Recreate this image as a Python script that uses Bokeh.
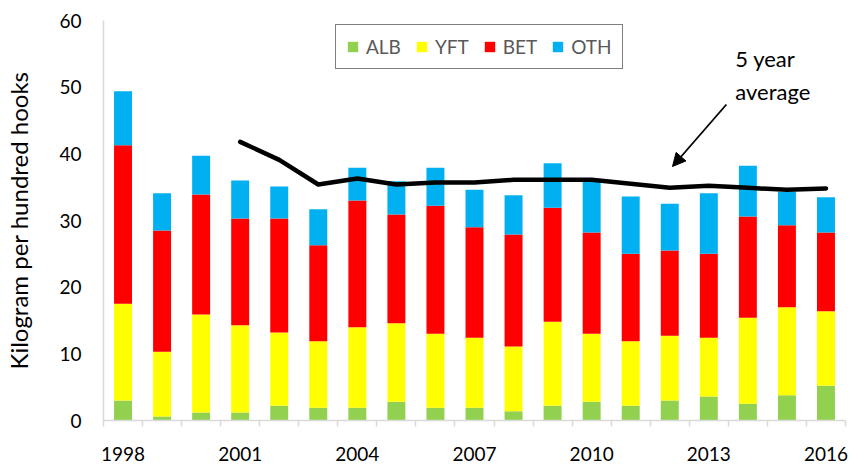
from bokeh.plotting import figure
from bokeh.models import (ColumnDataSource, Range1d, FixedTicker, Arrow, NormalHead,
                          Legend)
from bokeh.core.properties import value
from bokeh.embed import file_html
from bokeh.resources import INLINE

# ---- data ----
years = list(range(1998, 2017))
alb = [3.0, 0.6, 1.2, 1.2, 2.2, 1.9, 1.9, 2.8, 1.9, 1.9, 1.4, 2.2, 2.8, 2.2, 3.0, 3.6, 2.5, 3.8, 5.2]
yft = [14.5, 9.7, 14.7, 13.1, 11.0, 10.0, 12.1, 11.8, 11.1, 10.5, 9.7, 12.6, 10.2, 9.7, 9.7, 8.8, 12.9, 13.2, 11.2]
bet = [23.8, 18.2, 18.0, 16.0, 17.1, 14.4, 19.0, 16.3, 19.2, 16.6, 16.8, 17.1, 15.2, 13.1, 12.8, 12.6, 15.2, 12.3, 11.8]
oth = [8.1, 5.6, 5.8, 5.7, 4.8, 5.4, 4.9, 5.0, 5.7, 5.6, 5.9, 6.7, 7.8, 8.6, 7.0, 9.1, 7.6, 5.0, 5.3]

avg_years = list(range(2001, 2017))
avg5 = [41.8, 39.1, 35.4, 36.3, 35.4, 35.7, 35.7, 36.1, 36.1, 36.1, 35.5, 34.9, 35.2, 34.9, 34.6, 34.8]

species = ["ALB", "YFT", "BET", "OTH"]
colors = ["#92d050", "#ffff00", "#ff0000", "#00b0f0"]
x_tick_years = [1998, 2001, 2004, 2007, 2010, 2013, 2016]
y_ticks = [0, 10, 20, 30, 40, 50, 60]

FONT = "Lato"

source = ColumnDataSource(dict(year=years, ALB=alb, YFT=yft, BET=bet, OTH=oth))

p = figure(width=852, height=464, output_backend="svg", toolbar_location=None,
           x_range=Range1d(1997.5, 2016.5), y_range=Range1d(0, 60),
           min_border_left=103, min_border_right=7, min_border_top=20, min_border_bottom=44)
p.outline_line_color = None
p.xgrid.visible = False
p.ygrid.visible = False

renderers = p.vbar_stack(species, x="year", width=0.46, color=colors, source=source,
                         line_color=None)

p.line(avg_years, avg5, line_color="black", line_width=4.5, line_cap="round", line_join="round")

# annotation
p.add_layout(Arrow(end=NormalHead(size=13, fill_color="black", line_color="black"),
                   x_start=2013.45, y_start=47.4, x_end=2012.07, y_end=38.1,
                   line_color="black", line_width=1.8))
p.text(x=[2013.68, 2013.68], y=[54.3, 49.4], text=["5 year", "average"],
       text_font=value(FONT), text_font_size="22px", text_color="black",
       text_align="left", text_baseline="alphabetic")

# legend
legend = Legend(items=[(s, [r]) for s, r in zip(species, renderers)],
                orientation="horizontal", location=(232, 351),
                border_line_color="black", border_line_width=1.5,
                background_fill_color="white", background_fill_alpha=1,
                glyph_width=13, glyph_height=13, label_standoff=7, spacing=14,
                padding=10, margin=0,
                label_text_font=FONT, label_text_font_size="19px",
                label_text_color="#595959")
p.add_layout(legend)

# x axis
p.xaxis.ticker = FixedTicker(ticks=x_tick_years,
                             minor_ticks=[y - 0.5 for y in years] + [2016.5])
p.xaxis.major_tick_line_color = None
p.xaxis.major_tick_out = 0
p.xaxis.major_tick_in = 0
p.xaxis.minor_tick_line_color = "#d9d9d9"
p.xaxis.minor_tick_line_width = 1.5
p.xaxis.minor_tick_out = 6
p.xaxis.minor_tick_in = 0
p.xaxis.major_label_standoff = 20
p.xaxis.major_label_text_font = FONT
p.xaxis.major_label_text_font_size = "19px"
p.xaxis.major_label_text_color = "black"
p.xaxis.axis_line_color = "#d9d9d9"
p.xaxis.axis_line_width = 1.5

# y axis
p.yaxis.ticker = FixedTicker(ticks=y_ticks)
p.yaxis.major_tick_line_color = None
p.yaxis.minor_tick_line_color = None
p.yaxis.major_tick_out = 0
p.yaxis.major_tick_in = 0
p.yaxis.major_label_standoff = 22
p.yaxis.major_label_text_font = FONT
p.yaxis.major_label_text_font_size = "19px"
p.yaxis.major_label_text_color = "black"
p.yaxis.axis_line_color = "#d9d9d9"
p.yaxis.axis_line_width = 1.5
p.yaxis.axis_label = "Kilogram per hundred hooks"
p.yaxis.axis_label_text_font = FONT
p.yaxis.axis_label_text_font_size = "24px"
p.yaxis.axis_label_text_font_style = "normal"
p.yaxis.axis_label_text_color = "black"
p.yaxis.axis_label_standoff = 23

open("out.html", "w").write(file_html(p, INLINE))
